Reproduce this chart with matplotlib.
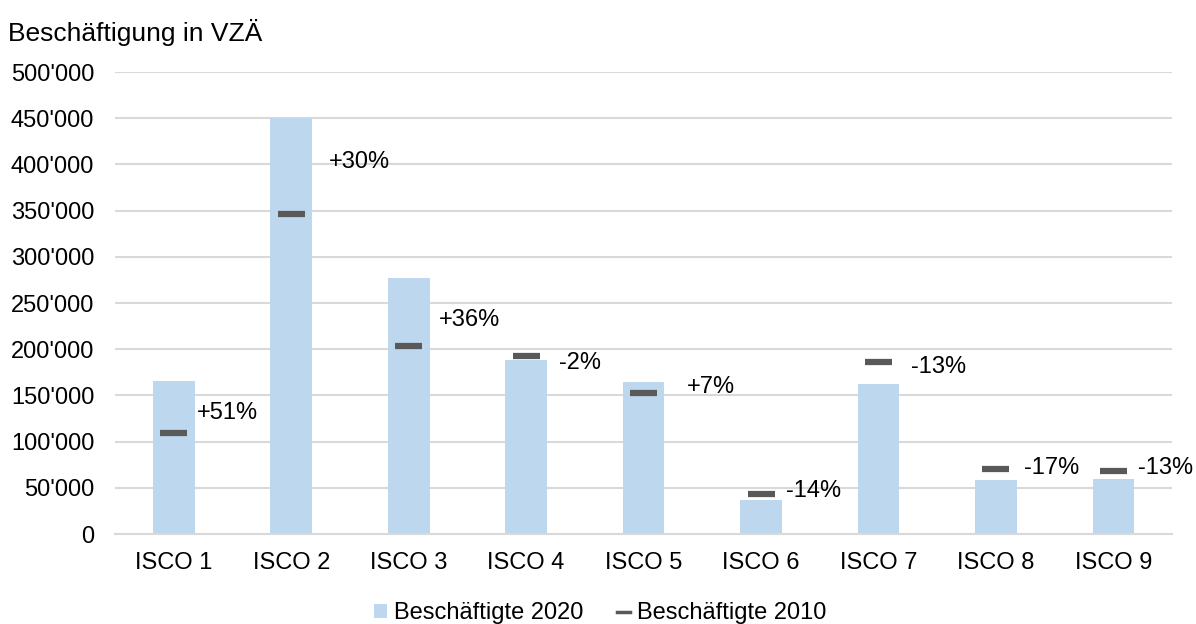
import matplotlib
matplotlib.use("Agg")
import matplotlib.pyplot as plt
import numpy as np
from matplotlib.patches import Patch
from matplotlib.lines import Line2D
from matplotlib.ticker import FuncFormatter

plt.rcParams['font.family'] = ['Liberation Sans', 'DejaVu Sans']

categories = ["ISCO 1", "ISCO 2", "ISCO 3", "ISCO 4", "ISCO 5", "ISCO 6", "ISCO 7", "ISCO 8", "ISCO 9"]
emp_2020 = [165600, 450200, 277000, 188300, 164500, 36800, 162300, 58400, 59500]
emp_2010 = [109300, 346300, 203500, 192600, 152600, 43300, 186100, 70300, 68300]
change_labels = ["+51%", "+30%", "+36%", "-2%", "+7%", "-14%", "-13%", "-17%", "-13%"]
label_y = [131000, 402600, 231600, 185000, 159000, 46500, 180700, 71400, 71400]
label_dx = [0.20, 0.32, 0.26, 0.28, 0.37, 0.21, 0.28, 0.24, 0.21]

bar_color = "#BDD7EE"
mark_color = "#595959"

fig = plt.figure(figsize=(11.96, 6.24), dpi=100)
ax = fig.add_axes([0.0962, 0.1442, 0.8838, 0.7404])

x = np.arange(len(categories))
ax.bar(x, emp_2020, width=0.355, color=bar_color, zorder=2)
ax.errorbar(x, emp_2010, xerr=0.115, fmt="none", ecolor=mark_color,
            elinewidth=4.5, capsize=0, zorder=3)

for i in range(len(categories)):
    ax.text(x[i] + label_dx[i], label_y[i], change_labels[i], fontsize=17,
            ha="left", va="center", color="black", zorder=4)

ax.set_xlim(-0.5, 8.5)
ax.set_ylim(0, 500000)
ax.set_yticks(np.arange(0, 500001, 50000))
ax.yaxis.set_major_formatter(FuncFormatter(lambda v, p: f"{int(v):,}".replace(",", "'")))
ax.set_xticks(x)
ax.set_xticklabels(categories)
ax.tick_params(axis="both", length=0, labelsize=17)
ax.tick_params(axis="y", pad=15)
ax.tick_params(axis="x", pad=13)
ax.grid(axis="y", color="#D9D9D9", linewidth=1.5, zorder=0)
ax.set_axisbelow(True)
for s in ["top", "right", "left"]:
    ax.spines[s].set_visible(False)
ax.spines["bottom"].set_color("#D9D9D9")
ax.spines["bottom"].set_linewidth(1.5)

fig.text(0.007, 0.948, "Beschäftigung in VZÄ", fontsize=19, ha="left", va="center")

handles = [Patch(facecolor=bar_color, edgecolor="none"),
           Line2D([], [], color=mark_color, linewidth=2.5)]
fig.legend(handles, ["Beschäftigte 2020", "Beschäftigte 2010"], loc="center",
           bbox_to_anchor=(0.502, 0.017), ncol=2, frameon=False, fontsize=17,
           handlelength=0.55, handleheight=0.55, handletextpad=0.3, columnspacing=1.4)

fig.savefig("out.png", dpi=100)
